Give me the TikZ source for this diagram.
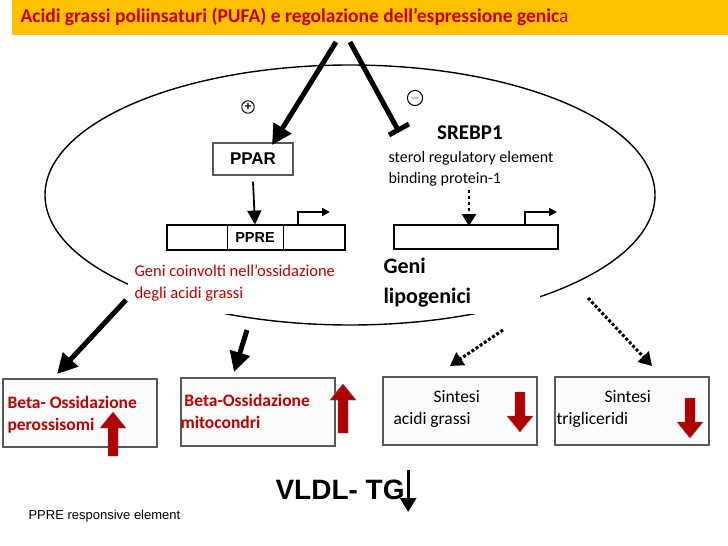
\documentclass[tikz,border=0pt]{standalone}
\usepackage{fontspec}
\setmainfont{Carlito}
\newfontfamily\arialfont{Liberation Sans}
\usetikzlibrary{arrows.meta,positioning,calc}
\definecolor{barorange}{HTML}{FFC000}
\definecolor{darkred}{HTML}{C00000}
\definecolor{blockred}{HTML}{B00000}
\tikzset{
  thick arrow/.style={line width=5pt,-{Triangle[length=20pt,width=20pt]}},
  dot arrow/.style={line width=3pt,dotted,-{Triangle[length=13pt,width=15pt]}},
  outbox/.style={draw=gray!70!black,line width=1.2pt,fill=gray!3,minimum width=154pt,minimum height=68pt},
  redtxt/.style={text=darkred,font=\bfseries\fontsize{17.5}{22}\selectfont,align=left},
  blktxt/.style={font=\fontsize{17.5}{22}\selectfont,align=left},
}
% block arrows: \blockup{x}{y top}{y bottom}
\newcommand{\blockup}[3]{\fill[blockred,draw=black!60,line width=.4pt] (#1-5,#3) -- (#1-5,#2+16) -- (#1-13,#2+16) -- (#1,#2) -- (#1+13,#2+16) -- (#1+5,#2+16) -- (#1+5,#3) -- cycle;}
\newcommand{\blockdown}[3]{\fill[blockred,draw=black!60,line width=.4pt] (#1-5,#2) -- (#1-5,#3-16) -- (#1-13,#3-16) -- (#1,#3) -- (#1+13,#3-16) -- (#1+5,#3-16) -- (#1+5,#2) -- cycle;}
\begin{document}
\begin{tikzpicture}[x=1pt,y=-1pt]
\useasboundingbox (0,0) rectangle (728,546);
% title
\fill[barorange] (12,0) rectangle (728,35);
\node[anchor=west,text=darkred,font=\bfseries\fontsize{19.5}{22}\selectfont] (title) at (17,17)
  {Acidi grassi poliinsaturi (PUFA) e regolazione dell’espressione genic\textmd{a}};
% nucleus
\draw[line width=1.4pt] (350,195) ellipse [x radius=305, y radius=130];
\coordinate (src1) at (336,42);
\coordinate (src2) at (350,42);
\node[draw=gray!70!black,line width=1.3pt,fill=white,minimum width=80pt,minimum height=32pt,font=\arialfont\bfseries\fontsize{17}{20}\selectfont] (ppar) at (253,159) {PPAR};
\coordinate (pparin) at (272,145);
\coordinate (srebbar) at (398,130);
\draw[thick arrow] (src1) -- (pparin);
\draw[line width=5pt] (src2) -- (srebbar);
\draw[line width=5pt] ($(srebbar)+(-9,5)$) -- ($(srebbar)+(11,-6)$);
\node[draw,circle,line width=1pt,inner sep=1pt,font=\bfseries\fontsize{13}{14}\selectfont] (plus) at (248,107) {+};
\node[draw,circle,line width=1pt,inner sep=1pt,font=\bfseries\fontsize{13}{14}\selectfont] (minus) at (415,98) {$-$};
\node[font=\bfseries\fontsize{21}{24}\selectfont] (srebp) at (470,133) {SREBP1};
\node[blktxt,anchor=north west,font=\fontsize{16}{21}\selectfont] (sterol) at (385,148) {sterol regulatory element\\binding protein-1};
% genes
\draw[line width=1.2pt,fill=white] (167,225) rectangle (345,250);
\node[draw,line width=.8pt,minimum width=56pt,minimum height=25pt,fill=white,font=\arialfont\bfseries\fontsize{14.5}{16}\selectfont] (ppre) at (255,237.5) {PPRE};
\draw[line width=1.2pt] (167,225) rectangle (345,250);
\node[draw,line width=1.2pt,fill=white,minimum width=164pt,minimum height=24pt] (gene2) at (476,237) {};
\coordinate (dashend) at (469,226);
\draw[line width=2pt,-{Triangle[length=8pt,width=8pt]}] (298,225) -- (298,212) -- (330,212);
\draw[line width=2pt,-{Triangle[length=8pt,width=8pt]}] (525,225) -- (525,212) -- (557,212);
\draw[line width=1.8pt,-{Triangle[length=14pt,width=14pt]}] (ppar.south) ++(0,6) -- (ppre.north);
\draw[line width=2.5pt,dashed,-{Triangle[length=12pt,width=14pt]}] (469,190) -- (dashend);
% labels
\fill[white] (128,252) rectangle (540,314);
\node[redtxt,anchor=north west,font=\fontsize{16.5}{22}\selectfont] (geniox) at (131,261) {Geni coinvolti nell’ossidazione\\degli acidi grassi};
\node[blktxt,anchor=north west,font=\bfseries\fontsize{22}{30}\selectfont] (genilip) at (380,255) {Geni\\lipogenici};
% outputs
\node[outbox] (perox) at (80,413) {};
\node[outbox] (mito) at (258,412) {};
\node[outbox] (sfa) at (460,411) {};
\node[outbox] (stg) at (632,411) {};
\coordinate (from1) at (126,300);
\coordinate (from2) at (247,330);
\coordinate (from3) at (503,330);
\coordinate (from4) at (588,298);
\draw[thick arrow] (from1) -- (57,374);
\draw[thick arrow] (from2) -- (234,372);
\draw[dot arrow] (from3) -- (450,366);
\draw[dot arrow] (from4) -- (652,366);
\node[redtxt,anchor=west] (t1) at (4,415) {Beta- Ossidazione\\perossisomi};
\node[redtxt,anchor=west] (t2) at (177,411) {\ Beta-Ossidazione\\mitocondri};
\node[blktxt,anchor=west] (t3) at (390,409) {\hspace*{40pt}Sintesi\\acidi grassi};
\node[blktxt,anchor=west] (t4) at (553,409) {\hspace*{48pt}Sintesi\\trigliceridi};
\blockup{113}{412}{456}
\blockup{343}{384}{433}
\blockdown{520}{392}{432}
\blockdown{690}{398}{438}
% VLDL
\node[font=\arialfont\bfseries\fontsize{28}{30}\selectfont,anchor=west] (vldl) at (272,490) {VLDL- TG};
\draw[line width=3pt,-{Triangle[length=14pt,width=16pt]}] (vldl.east) ++(0,-20) -- ++(0,42);
\node[font=\arialfont\fontsize{13}{15}\selectfont,anchor=west] (pprelab) at (25,516) {PPRE responsive element};
\end{tikzpicture}
\end{document}
